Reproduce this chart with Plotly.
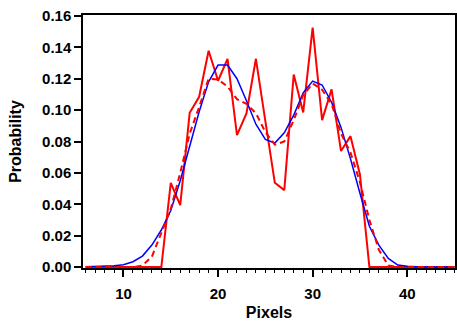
import plotly.graph_objects as go

pixels = list(range(6, 46))

measured = [0, 0, 0, 0, 0, 0, 0, 0, 0,
            0.0537, 0.0395, 0.0983, 0.1085, 0.1378, 0.1187, 0.1327, 0.0841, 0.0979,
            0.1327, 0.093, 0.0537, 0.049, 0.1227, 0.0985, 0.1525, 0.0936, 0.1132,
            0.0739, 0.0834, 0.059,
            0, 0, 0, 0, 0, 0, 0, 0, 0, 0]

smoothed = [0, 0, 0, 0, 0, 0, 0.001, 0.0066, 0.0217,
            0.037, 0.06, 0.085, 0.102, 0.120, 0.1195, 0.115, 0.107, 0.104,
            0.098, 0.086, 0.078, 0.080, 0.0936, 0.1095, 0.117, 0.1130, 0.104,
            0.085, 0.073, 0.054, 0.030, 0.011, 0.001,
            0, 0, 0, 0, 0, 0, 0]

fitted = [0.0002, 0.0003, 0.0005, 0.0009, 0.0015, 0.0034, 0.007, 0.014, 0.0236,
          0.036, 0.055, 0.077, 0.099, 0.118, 0.1287, 0.1287, 0.120, 0.106,
          0.0910, 0.0813, 0.0790, 0.0855, 0.0968, 0.1110, 0.1185, 0.1160, 0.105,
          0.089, 0.069, 0.047, 0.026, 0.014, 0.0055, 0.0013, 0.0005, 0.0002,
          0.0001, 0.0001, 0.0001, 0.0001]

y_ticks = [0.00, 0.02, 0.04, 0.06, 0.08, 0.10, 0.12, 0.14, 0.16]
x_ticks = [10, 20, 30, 40]

fig = go.Figure()
fig.add_trace(go.Scatter(x=pixels, y=measured, mode="lines",
                         line=dict(color="#ff0000", width=2)))
fig.add_trace(go.Scatter(x=pixels, y=fitted, mode="lines",
                         line=dict(color="#0000ff", width=1.5)))
fig.add_trace(go.Scatter(x=pixels, y=smoothed, mode="lines",
                         line=dict(color="#ff0000", width=2, dash="6px,4px")))

font_family = "Liberation Sans, Arial, sans-serif"
fig.update_layout(
    width=457, height=322,
    margin=dict(l=83, r=2, t=15, b=54, autoexpand=False),
    paper_bgcolor="white", plot_bgcolor="white",
    showlegend=False,
    font=dict(family=font_family, color="black"),
)
fig.update_xaxes(
    automargin=False,
    range=[5.72, 45.05],
    tickvals=x_ticks, ticktext=[str(v) for v in x_ticks],
    ticks="outside", ticklen=7, tickwidth=1.5, tickcolor="black",
    ticklabelstandoff=4,
    minor=dict(dtick=1, tick0=0, ticks="outside", ticklen=3.5, tickwidth=1.2, tickcolor="black", showgrid=False),
    showline=True, linecolor="black", linewidth=1.5, mirror=True,
    showgrid=False, zeroline=False,
    tickfont=dict(size=15, weight="bold", family=font_family),
    title=dict(text="Pixels", font=dict(size=16, weight="bold", family=font_family), standoff=6),
)
fig.update_yaxes(
    automargin=False,
    range=[-0.0006, 0.1606],
    tickvals=y_ticks, ticktext=[f"{v:.2f}" for v in y_ticks],
    ticks="outside", ticklen=7, tickwidth=1.5, tickcolor="black",
    showline=True, linecolor="black", linewidth=1.5, mirror=True,
    showgrid=False, zeroline=False,
    tickfont=dict(size=15, weight="bold", family=font_family),
    title=dict(text="Probability", font=dict(size=16, weight="bold", family=font_family), standoff=16),
)

fig.write_html("out.html", config={"displayModeBar": False},
               post_script="document.body.style.margin='0';document.body.style.padding='0';")
